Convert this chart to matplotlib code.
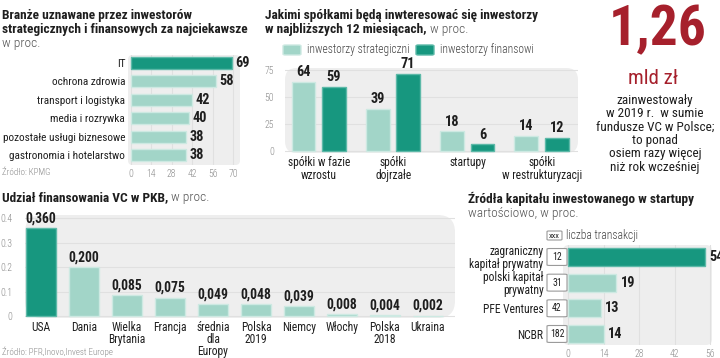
import matplotlib
matplotlib.use("Agg")
import matplotlib.pyplot as plt
from matplotlib.patches import FancyBboxPatch
import numpy as np

W, H = 720, 358
DARK = '#17977f'
LIGHT = '#a2d5c8'
DARK_EDGE = '#5db9a8'
LIGHT_EDGE = '#cde9e2'
PANEL = '#eeeeee'
GRID = '#e0e0e0'
RED = '#a6202c'
TXT = '#1e1e1e'
GRAY = '#8a8a8a'
NARROW = 'Roboto Condensed'
BODY = 'Roboto Condensed'

# ---------------- data ----------------
sector_names = ["IT", "ochrona zdrowia", "transport i logistyka", "media i rozrywka",
                "pozostałe usługi biznesowe", "gastronomia i hotelarstwo"]
sector_values = [69, 58, 42, 40, 38, 38]
sector_ticks = [0, 14, 28, 42, 56, 70]

company_types = ["spółki w fazie\nwzrostu", "spółki\ndojrzałe", "startupy", "spółki\nw restrukturyzacji"]
strategic = [64, 39, 18, 14]
financial = [59, 71, 6, 12]
company_ticks = [0, 25, 50, 75]
series_names = ["inwestorzy strategiczni", "inwestorzy finansowi"]

countries = ["USA", "Dania", "Wielka\nBrytania", "Francja", "średnia\ndla\nEuropy",
             "Polska\n2019", "Niemcy", "Włochy", "Polska\n2018", "Ukraina"]
vc_share = [0.360, 0.200, 0.085, 0.075, 0.049, 0.048, 0.039, 0.008, 0.004, 0.002]
vc_ticks = [0, 0.1, 0.2, 0.3, 0.4]
vc_tick_labels = ["0", "0.1", "0.2", "0.3", "0.4"]

sources = ["zagraniczny\nkapitał prywatny", "polski kapitał\nprywatny", "PFE Ventures", "NCBR"]
source_share = [54, 19, 13, 14]
deal_counts = [12, 31, 42, 182]
source_ticks = [0, 14, 28, 42, 56]

headline_value = "1,26"
headline_unit = "mld zł"
headline_text = ["zainwestowały", "w 2019 r.  w sumie", "fundusze VC w Polsce;",
                 "to ponad", "osiem razy więcej", "niż rok wcześniej"]

# ---------------- helpers ----------------
fig = plt.figure(figsize=(7.2, 3.58), dpi=100)
fig.patch.set_facecolor('white')


def axes_px(l, t, r, b):
    return fig.add_axes([l / W, 1 - b / H, (r - l) / W, (b - t) / H])


def ftext(x, y, s, **kw):
    kw.setdefault('va', 'center')
    return fig.text(x / W, 1 - y / H, s, **kw)


def panel(ax):
    ax.set_facecolor('none')
    for s in ax.spines.values():
        s.set_visible(False)
    bb = ax.get_position()
    asp = (bb.width * W) / (bb.height * H)
    p = FancyBboxPatch((0, 0), 1, 1, boxstyle='round,pad=0,rounding_size=0.04',
                       mutation_aspect=asp, transform=ax.transAxes, fc=PANEL, ec='none',
                       zorder=-5, clip_on=False)
    ax.add_patch(p)
    ax.set_axisbelow(True)
    ax.tick_params(length=0, colors=GRAY, labelsize=7)
    for lab in ax.get_xticklabels() + ax.get_yticklabels():
        lab.set_fontfamily(BODY)
        lab.set_fontweight('light')


renderer = fig.canvas.get_renderer()
TSIZE = 9.6
VSIZE = 9.3
LSIZE = 8.3


def bold_then_normal(x, y, bold, normal, size=TSIZE):
    t = ftext(x, y, bold, fontfamily=NARROW, fontweight='bold', fontsize=size, color=TXT)
    ext = t.get_window_extent(renderer)
    ftext(ext.x1 + 3, y, normal, fontfamily=BODY, fontweight='light', fontsize=size, color='#555555')
    return t

# ---------------- panel 1: sectors ----------------
ftext(2, 15, "Branże uznawane przez inwestorów", fontfamily=NARROW, fontweight='bold', fontsize=TSIZE, color=TXT)
ftext(2, 29, "strategicznych i finansowych za najciekawsze", fontfamily=NARROW, fontweight='bold', fontsize=TSIZE, color=TXT)
ftext(2, 43, "w proc.", fontfamily=BODY, fontweight='light', fontsize=TSIZE, color='#555555')

ax1 = axes_px(128, 55, 240, 165)
y1 = np.arange(len(sector_names))
c1 = [DARK] + [LIGHT] * (len(sector_names) - 1)
e1 = [DARK_EDGE] + [LIGHT_EDGE] * (len(sector_names) - 1)
ax1.barh(y1, sector_values, height=0.66, color=c1, edgecolor=e1, linewidth=1)
ax1.set_xlim(-1.84, 74.6)
ax1.set_ylim(5.54, -0.43)
ax1.set_xticks(sector_ticks)
ax1.set_yticks(y1, sector_names)
ax1.grid(axis='x', color=GRID, lw=0.8)
panel(ax1)
ax1.tick_params(axis='y', colors=TXT, labelsize=8.1, pad=2)
ax1.tick_params(axis='x', pad=3)
for lab in ax1.get_yticklabels():
    lab.set_fontweight('normal')
for i, v in enumerate(sector_values):
    ax1.text(v + 2.3, i, str(v), va='center', ha='left', fontfamily=NARROW,
             fontweight='bold', fontsize=VSIZE + 1, color=TXT, clip_on=False)
ftext(2, 172, "Źródło: KPMG", fontfamily=BODY, fontweight='light', fontsize=6.5, color=GRAY)

# ---------------- panel 2: company types ----------------
ftext(265, 15, "Jakimi spółkami będą inwteresować się inwestorzy", fontfamily=NARROW,
      fontweight='bold', fontsize=TSIZE, color=TXT)
bold_then_normal(265, 30, "w najbliższych 12 miesiącach,", "w proc.")

ax2 = axes_px(285, 68, 578, 153)
x2 = np.arange(len(company_types))
ax2.bar(x2 - 0.21, strategic, width=0.32, color=LIGHT, edgecolor=LIGHT_EDGE, linewidth=1)
ax2.bar(x2 + 0.20, financial, width=0.32, color=DARK, edgecolor=DARK_EDGE, linewidth=1)
ax2.set_xlim(-0.458, 3.486)
ax2.set_ylim(-2.1, 76.6)
ax2.set_yticks(company_ticks)
ax2.set_xticks(x2, company_types)
ax2.grid(axis='y', color=GRID, lw=0.8)
panel(ax2)
ax2.tick_params(axis='y', pad=8)
ax2.tick_params(axis='x', colors=TXT, labelsize=LSIZE, pad=2.5)
for lab in ax2.get_xticklabels():
    lab.set_fontweight('normal')
    lab.set_linespacing(0.95)
for i in range(len(company_types)):
    ax2.text(x2[i] - 0.21, strategic[i] + 2.5, str(strategic[i]), ha='center', va='bottom',
             fontfamily=NARROW, fontweight='bold', fontsize=VSIZE + 1, color=TXT, clip_on=False)
    ax2.text(x2[i] + 0.20, financial[i] + 2.5, str(financial[i]), ha='center', va='bottom',
             fontfamily=NARROW, fontweight='bold', fontsize=VSIZE + 1, color=TXT, clip_on=False)

for (x0, col, ec), name in zip([(283, LIGHT, LIGHT_EDGE), (416, DARK, DARK_EDGE)], series_names):
    fig.add_artist(FancyBboxPatch((x0 / W, 1 - 55 / H), 18 / W, 10 / H,
                                  boxstyle='round,pad=0,rounding_size=0.003',
                                  transform=fig.transFigure, fc=col, ec=ec, lw=1))
    ftext(x0 + 24, 50, name, fontfamily=BODY, fontweight='light', fontsize=LSIZE, color='#444444')

# ---------------- panel 3: headline ----------------
ftext(658, 30, headline_value, fontfamily=NARROW, fontweight='bold', fontsize=40, color=RED, ha='center')
ftext(653, 79, headline_unit, fontfamily=BODY, fontsize=15, color=RED, ha='center')
ftext(655, 94, "\n".join(headline_text), fontfamily=BODY, fontsize=9.5, color=TXT,
      ha='center', va='top', linespacing=1.03)

# ---------------- panel 4: VC share of GDP ----------------
bold_then_normal(2, 198, "Udział finansowania VC w PKB,", "w proc.")
ax4 = axes_px(25, 215, 455, 318)
x4 = np.arange(len(countries))
c4 = [DARK] + [LIGHT] * (len(countries) - 1)
e4 = [DARK_EDGE] + [LIGHT_EDGE] * (len(countries) - 1)
ax4.bar(x4, vc_share, width=0.7, color=c4, edgecolor=e4, linewidth=1)
ax4.set_xlim(-0.372, 9.63)
ax4.set_ylim(-0.0082, 0.4135)
ax4.set_yticks(vc_ticks, vc_tick_labels)
ax4.set_xticks(x4, countries)
ax4.grid(axis='y', color=GRID, lw=0.8)
panel(ax4)
ax4.tick_params(axis='y', pad=9)
ax4.tick_params(axis='x', colors=TXT, labelsize=LSIZE, pad=2)
for lab in ax4.get_xticklabels():
    lab.set_fontweight('normal')
    lab.set_linespacing(0.92)
for i, v in enumerate(vc_share):
    ax4.text(i, v + 0.012, f"{v:.3f}".replace('.', ','), ha='center', va='bottom',
             fontfamily=NARROW, fontweight='bold', fontsize=VSIZE + 0.5, color=TXT, clip_on=False)
ftext(2, 352, "Źródło: PFR,Inovo,Invest Europe", fontfamily=BODY, fontweight='light', fontsize=6.5, color=GRAY)

# ---------------- panel 5: capital sources ----------------
ftext(468, 199, "Źródła kapitału inwestowanego w startupy", fontfamily=NARROW,
      fontweight='bold', fontsize=TSIZE, color=TXT)
ftext(468, 214, "wartościowo, w proc.", fontfamily=BODY, fontweight='light', fontsize=TSIZE, color='#555555')

ax5 = axes_px(563, 245, 712, 345)
y5 = np.arange(len(sources))
c5 = [DARK] + [LIGHT] * (len(sources) - 1)
e5 = [DARK_EDGE] + [LIGHT_EDGE] * (len(sources) - 1)
ax5.barh(y5, source_share, height=0.7, color=c5, edgecolor=e5, linewidth=1)
ax5.set_xlim(-2.09, 56.75)
ax5.set_ylim(3.43, -0.467)
ax5.set_xticks(source_ticks)
ax5.set_yticks(y5, sources)
ax5.grid(axis='x', color=GRID, lw=0.8)
panel(ax5)
ax5.tick_params(axis='y', colors=TXT, labelsize=LSIZE, pad=14)
ax5.tick_params(axis='x', pad=3)
for lab in ax5.get_yticklabels():
    lab.set_fontweight('normal')
    lab.set_linespacing(0.95)
for i, v in enumerate(source_share):
    ax5.text(v + 1.6, i, str(v), va='center', ha='left', fontfamily=NARROW,
             fontweight='bold', fontsize=VSIZE + 1, color=TXT, clip_on=False)
tr5 = ax5.get_yaxis_transform()
aw5 = 712 - 563
for i, n in enumerate(deal_counts):
    ax5.add_patch(FancyBboxPatch(((547 - 563) / aw5, i - 0.33), 20 / aw5, 0.66,
                                 boxstyle='round,pad=0,rounding_size=0.02', transform=tr5,
                                 fc='white', ec='#9a9a9a', lw=0.8, clip_on=False, zorder=3))
    ax5.text((557 - 563) / aw5, i, str(n), transform=tr5, ha='center', va='center',
             fontfamily=BODY, fontsize=7, color=TXT, zorder=4, clip_on=False)

fig.add_artist(FancyBboxPatch((547 / W, 1 - 240 / H), 15 / W, 9 / H,
                              boxstyle='round,pad=0,rounding_size=0.002',
                              transform=fig.transFigure, fc='white', ec='#9a9a9a', lw=0.8))
ftext(554.5, 235.5, "xxx", fontfamily=BODY, fontsize=6, color=TXT, ha='center')
ftext(566, 235, "liczba transakcji", fontfamily=BODY, fontweight='light', fontsize=LSIZE, color='#444444')

fig.savefig("out.png", dpi=100)
